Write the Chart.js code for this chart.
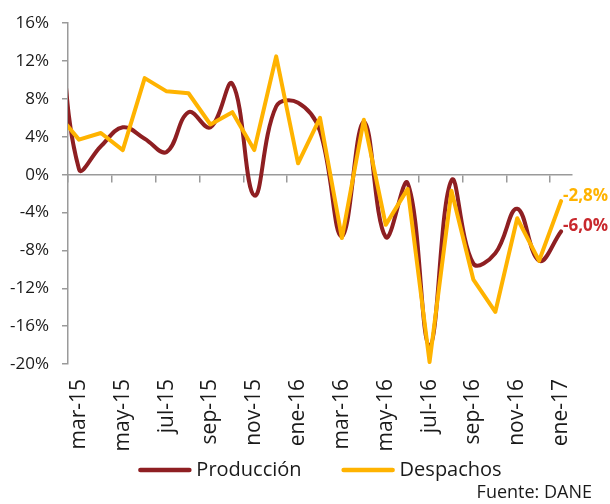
<!DOCTYPE html>
<html><head><meta charset="utf-8">
<script src="https://cdn.jsdelivr.net/npm/chart.js@4.4.1/dist/chart.umd.min.js"></script>
<style>html,body{margin:0;padding:0;background:#fff;} #wrap{width:610px;height:504px;position:relative;}</style>
</head><body><div id="wrap"><canvas id="c" width="610" height="504"></canvas></div>
<script>
// feb-15 lies just left of the visible axis (the lines enter from the left edge)
const months = ['feb-15','mar-15','abr-15','may-15','jun-15','jul-15','ago-15','sep-15','oct-15','nov-15','dic-15',
  'ene-16','feb-16','mar-16','abr-16','may-16','jun-16','jul-16','ago-16','sep-16','oct-16','nov-16','dic-16','ene-17'];
const produccion = [20, 0.6, 3.0, 5.0, 3.8, 2.4, 6.6, 5.0, 9.6, -2.2, 7.2, 7.6, 4.6, -6.5, 5.6, -6.6, -0.9, -18.0, -0.6, -9.4, -8.3, -3.6, -9.1, -6.0];
const despachos = [6.5, 3.7, 4.4, 2.6, 10.2, 8.8, 8.6, 5.3, 6.6, 2.6, 12.5, 1.2, 6.0, -6.7, 5.8, -5.3, -1.5, -19.8, -1.7, -11.1, -14.5, -4.6, -9.1, -2.8];
const yTickValues = [-20, -16, -12, -8, -4, 0, 4, 8, 12, 16];
const firstMonth = 'mar-15';

const FONT = "'Open Sans', sans-serif";
const RED = '#8E1F22', ORANGE = '#FFB300', RED_TXT = '#C8282D', TXT = '#1a1a1a', AXIS = '#9a9a9a';

const endLabels = {
  id: 'endLabels',
  afterDatasetsDraw(chart) {
    const ctx = chart.ctx;
    const specs = [{ds: 1, color: ORANGE}, {ds: 0, color: RED_TXT}];
    ctx.save();
    ctx.font = 'bold 17px ' + FONT;
    ctx.textAlign = 'left';
    ctx.textBaseline = 'middle';
    specs.forEach(s => {
      const meta = chart.getDatasetMeta(s.ds);
      const last = meta.data.length - 1;
      const pt = meta.data[last];
      const v = chart.data.datasets[s.ds].data[last];
      ctx.fillStyle = s.color;
      ctx.fillText(v.toFixed(1).replace('.', ',') + '%', pt.x + 2, pt.y - 5);
    });
    ctx.restore();
  }
};
const legendAndSource = {
  id: 'legendAndSource',
  afterDraw(chart) {
    const ctx = chart.ctx;
    ctx.save();
    ctx.font = '20px ' + FONT;
    ctx.textBaseline = 'middle';
    ctx.textAlign = 'left';
    const items = chart.data.datasets.map(ds => ({text: ds.label, color: ds.borderColor, w: ctx.measureText(ds.label).width}));
    const lineW = 53, gap = 5, itemGap = 40;
    const total = items.reduce((s, it) => s + lineW + gap + it.w, 0) + itemGap * (items.length - 1);
    let x = (chart.chartArea.left + chart.chartArea.right) / 2 - total / 2;
    const y = 470;
    items.forEach(it => {
      ctx.strokeStyle = it.color;
      ctx.lineWidth = 4.5;
      ctx.lineCap = 'round';
      ctx.beginPath();
      ctx.moveTo(x + 2, y);
      ctx.lineTo(x + lineW - 2, y);
      ctx.stroke();
      x += lineW + gap;
      ctx.fillStyle = TXT;
      ctx.fillText(it.text, x, y);
      x += it.w + itemGap;
    });
    ctx.font = '18px ' + FONT;
    ctx.textAlign = 'right';
    ctx.fillText('Fuente: DANE', 592, 493);
    ctx.restore();
  }
};

new Chart(document.getElementById('c'), {
  type: 'line',
  data: {
    labels: months,
    datasets: [
      {label: 'Producción', data: produccion, borderColor: RED, backgroundColor: RED, borderWidth: 4,
       tension: 0.4, pointRadius: 0, order: 1, borderJoinStyle: 'round', borderCapStyle: 'round'},
      {label: 'Despachos', data: despachos, borderColor: ORANGE, backgroundColor: ORANGE, borderWidth: 4,
       tension: 0, pointRadius: 0, order: 0, borderJoinStyle: 'round', borderCapStyle: 'round'}
    ]
  },
  options: {
    responsive: false, animation: false, devicePixelRatio: 1,
    layout: {padding: {top: 14, left: 0, right: 38, bottom: 0}},
    plugins: {
      legend: {display: false},
      tooltip: {enabled: false}
    },
    scales: {
      x: {
        type: 'category', min: firstMonth, offset: true,
        grid: {display: false, drawTicks: false}, border: {display: false},
        ticks: {autoSkip: false, minRotation: 90, maxRotation: 90, padding: 15, color: TXT,
          font: {family: FONT, size: 21},
          callback: (v, i) => i % 2 === 0 ? months[v] : ''},
        afterFit: s => { s.height = 140; }
      },
      x2: {
        type: 'category', axis: 'x', position: {y: 0}, min: firstMonth, offset: true,
        grid: {drawOnChartArea: false, drawTicks: true, tickLength: 7, offset: true,
          color: c => c.index % 2 === 0 ? AXIS : 'rgba(0,0,0,0)', lineWidth: 1.5},
        border: {display: true, color: AXIS, width: 1.5},
        ticks: {display: false}
      },
      y: {
        min: -20, max: 16,
        afterBuildTicks: s => { s.ticks = yTickValues.map(v => ({value: v})); },
        grid: {drawOnChartArea: false, drawTicks: true, tickLength: 6, color: AXIS, lineWidth: 1.5},
        border: {display: true, color: AXIS, width: 1.5},
        ticks: {padding: 13, color: TXT, font: {family: FONT, size: 17}, callback: v => v + '%'},
        afterFit: s => { s.width = 68; }
      }
    }
  },
  plugins: [endLabels, legendAndSource]
});
</script></body></html>
